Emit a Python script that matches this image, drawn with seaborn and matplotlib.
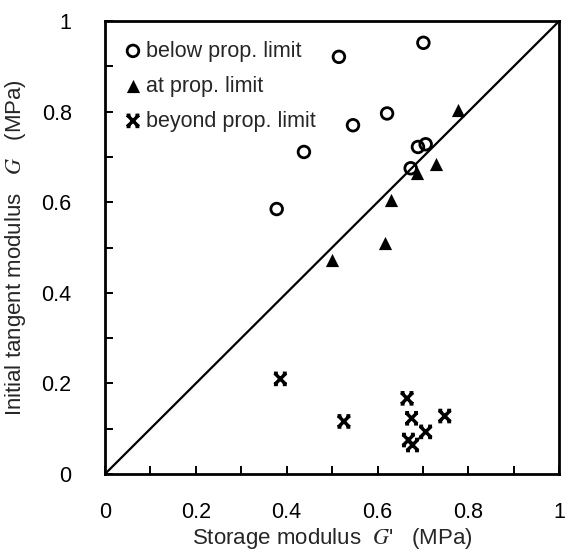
import seaborn as sns
import pandas as pd
from matplotlib import pyplot as plt
from matplotlib.path import Path
from matplotlib.ticker import MultipleLocator, FuncFormatter

# storage modulus G' and initial tangent modulus G (MPa)
below_gp = [0.515, 0.701, 0.621, 0.546, 0.438, 0.689, 0.706, 0.673, 0.378]
below_g = [0.921, 0.952, 0.796, 0.770, 0.711, 0.722, 0.728, 0.675, 0.585]

at_gp = [0.777, 0.728, 0.686, 0.630, 0.617, 0.499]
at_g = [0.803, 0.684, 0.665, 0.605, 0.509, 0.472]

beyond_gp = [0.386, 0.526, 0.665, 0.675, 0.706, 0.748, 0.668, 0.677]
beyond_g = [0.210, 0.116, 0.167, 0.123, 0.093, 0.128, 0.075, 0.064]

groups = ["below prop. limit", "at prop. limit", "beyond prop. limit"]

df = pd.concat([
    pd.DataFrame({"Gp": below_gp, "G": below_g, "group": groups[0]}),
    pd.DataFrame({"Gp": at_gp, "G": at_g, "group": groups[1]}),
    pd.DataFrame({"Gp": beyond_gp, "G": beyond_g, "group": groups[2]}),
])

# X with little flat serifs at the ends, like the original symbol
M, L = Path.MOVETO, Path.LINETO
serif_x = Path(
    [(-1, -1), (1, 1), (-1, 1), (1, -1),
     (-1.15, 1), (-0.45, 1), (0.45, 1), (1.15, 1),
     (-1.15, -1), (-0.45, -1), (0.45, -1), (1.15, -1)],
    [M, L, M, L, M, L, M, L, M, L, M, L])

sns.set_style("ticks")
plt.rcParams['font.family'] = ['Liberation Sans', 'DejaVu Sans']
plt.rcParams['mathtext.fontset'] = 'stix'

fig = plt.figure(figsize=(5.66, 5.54), dpi=100)
ax = fig.add_axes([0.1855, 0.1444, 0.8025, 0.8176])

# 1:1 line
ax.plot([0, 1], [0, 1], color="black", lw=1.6, zorder=1)

sub = df[df.group == groups[0]]
sns.scatterplot(data=sub, x="Gp", y="G", ax=ax, marker="o", s=70,
                facecolor="none", edgecolor="black", linewidth=2, label=groups[0])
sub = df[df.group == groups[1]]
sns.scatterplot(data=sub, x="Gp", y="G", ax=ax, marker="^", s=90,
                color="black", linewidth=0, label=groups[1])
sub = df[df.group == groups[2]]
sns.scatterplot(data=sub, x="Gp", y="G", ax=ax, marker=serif_x, s=85,
                facecolor="none", edgecolor="black", linewidth=2.5,
                label=groups[2])

# odd little segment between two of the crosses in the original
ax.plot([beyond_gp[4], beyond_gp[7]], [beyond_g[4], beyond_g[7]],
        color="black", lw=1.4, zorder=1)

ax.set_xlim(0, 1)
ax.set_ylim(0, 1)


def tick_fmt(v, _):
    v = round(v, 2)
    if v == 0:
        return "0"
    if v == 1:
        return "1"
    return f"{v:.1f}"


for a in (ax.xaxis, ax.yaxis):
    a.set_major_locator(MultipleLocator(0.2))
    a.set_minor_locator(MultipleLocator(0.1))
    a.set_major_formatter(FuncFormatter(tick_fmt))
ax.tick_params(which="both", direction="in", length=6, width=1.4,
               labelsize=15.5, colors="black", top=False, right=False)
ax.tick_params(axis="x", pad=20)
ax.tick_params(axis="y", pad=24)
for s in ax.spines.values():
    s.set_linewidth(2)
    s.set_color("black")

ax.set_xlabel(r"Storage modulus  $G$'   (MPa)", fontsize=16, labelpad=2)
ax.set_ylabel(r"Initial tangent modulus   $G$   (MPa)", fontsize=16, labelpad=10)

leg = ax.legend(loc="upper left", frameon=False, fontsize=15.5,
                handletextpad=0.1, handlelength=1.0, labelspacing=0.65,
                borderaxespad=0.4, bbox_to_anchor=(0.0, 0.995))

fig.savefig("out.png", dpi=100)
